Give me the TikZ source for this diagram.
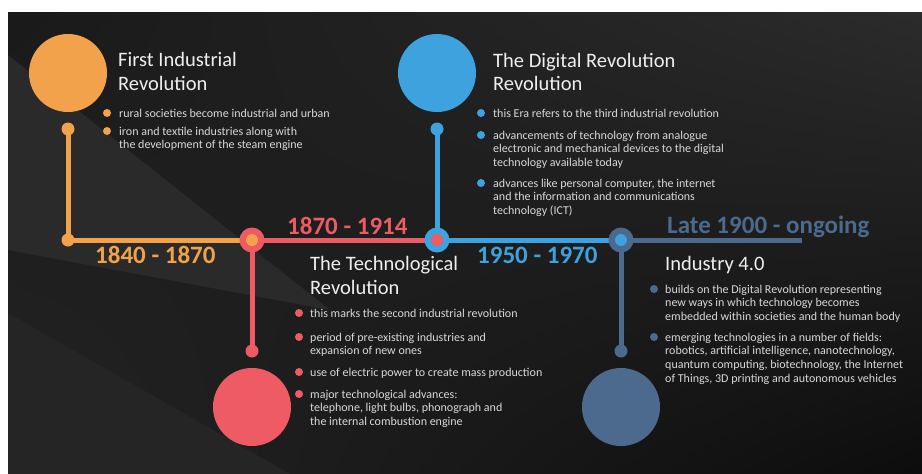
\documentclass[tikz,border=0pt]{standalone}
\usepackage{fontspec}
\setmainfont{Carlito}
\usetikzlibrary{shadings}
\definecolor{eraone}{HTML}{F3A24C}
\definecolor{eratwo}{HTML}{EE5B64}
\definecolor{erathree}{HTML}{3DA2DE}
\definecolor{erafour}{HTML}{4B6A8D}
\definecolor{headtext}{HTML}{EFEFEF}
\definecolor{bodytext}{HTML}{D9D9D9}
\definecolor{bandlight}{HTML}{2A2A2A}
\definecolor{bandlow}{HTML}{252525}
\pgfdeclarelayer{bg}
\pgfdeclarelayer{tracks}
\pgfsetlayers{bg,tracks,main}
\begin{document}
\begin{tikzpicture}[x=1pt, y=-1pt,
  bigdot/.style={circle, inner sep=0pt, minimum size=78pt},
  smalldot/.style={circle, inner sep=0pt, minimum size=13pt},
  ring/.style={circle, inner sep=0pt, minimum size=25pt},
  hub/.style={circle, inner sep=0pt, minimum size=12pt},
  bulletdot/.style={circle, inner sep=0pt, minimum size=8pt},
  track/.style={line width=5pt},
  headline/.style={anchor=base west, inner sep=0pt, align=left, text=headtext, font=\fontsize{20.5}{23.5}\selectfont},
  itemtext/.style={anchor=base west, inner sep=0pt, align=left, text=bodytext, font=\fontsize{12}{13.7}\selectfont},
  yearlabel/.style={anchor=base west, inner sep=0pt, font=\fontsize{25}{25}\selectfont\bfseries}]

\useasboundingbox (0,0) rectangle (922,474);
\begin{pgfonlayer}{bg}
\fill[white] (0,0) rectangle (922,474);
\shade[upper left=black!90, upper right=black!83, lower left=black!86, lower right=black!95] (8,12) rectangle (922,474);
\fill[bandlight] (8,55) -- (330,310) -- (8,250) -- cycle;
\fill[bandlow] (8,313) -- (290,474) -- (8,474) -- cycle;
\end{pgfonlayer}

% big circles and end dots
\node[bigdot, fill=eraone] (c1) at (68,73) {};
\node[smalldot, fill=eraone] (t1) at (68,129) {};
\node[smalldot, fill=eraone] (s1) at (68,240) {};
\node[bigdot, fill=eratwo] (c2) at (252,407) {};
\node[smalldot, fill=eratwo] (b2) at (252,351) {};
\node[bigdot, fill=erathree] (c3) at (437,73) {};
\node[smalldot, fill=erathree] (t3) at (437,129) {};
\node[bigdot, fill=erafour] (c4) at (621,407) {};
\node[smalldot, fill=erafour] (b4) at (621,351) {};
\coordinate (tail) at (802,240);

% junctions
\node[ring, fill=eratwo] (j2) at (252,240) {};
\node[hub, fill=eraone] (h2) at (j2) {};
\node[ring, fill=erathree] (j3) at (437,240) {};
\node[hub, fill=eratwo] (h3) at (j3) {};
\node[ring, fill=erafour] (j4) at (621,240) {};
\node[hub, fill=erathree] (h4) at (j4) {};

\begin{pgfonlayer}{tracks}
\draw[track, eraone] (t1.center) -- (s1.center) -- (j2.center);
\draw[track, eratwo] (j2.center) -- (j3.center);
\draw[track, eratwo] (j2.center) -- (b2.center);
\draw[track, erathree] (t3.center) -- (j3.center) -- (j4.center);
\draw[track, erafour] (j4.center) -- (b4.center);
\draw[track, erafour] (j4.center) -- (tail);
\end{pgfonlayer}

% years
\node[yearlabel, text=eraone] (y1) at (95,263) {1840 - 1870};
\node[yearlabel, text=eratwo] (y2) at (287,234) {1870 - 1914};
\node[yearlabel, text=erathree] (y3) at (477,263) {1950 - 1970};
\node[yearlabel, text=erafour] (y4) at (667,233) {Late 1900 - ongoing};

% first industrial revolution (multi-line nodes sit on their last line)
\node[headline] (h1) at (118,90) {First Industrial\\Revolution};
\node[bulletdot, fill=eraone] (d11) at (107,113) {};
\node[itemtext] (i11) at (119,117) {rural societies become industrial and urban};
\node[bulletdot, fill=eraone] (d12) at (107,131) {};
\node[itemtext] (i12) at (119,148.7) {iron and textile industries along with\\the development of the steam engine};

% technological revolution
\node[headline] (h2t) at (310,294) {The Technological\\Revolution};
\node[bulletdot, fill=eratwo] (d21) at (299,313) {};
\node[itemtext] (i21) at (310,317) {this marks the second industrial revolution};
\node[bulletdot, fill=eratwo] (d22) at (299,337) {};
\node[itemtext] (i22) at (310,354.7) {period of pre-existing industries and\\expansion of new ones};
\node[bulletdot, fill=eratwo] (d23) at (299,372) {};
\node[itemtext] (i23) at (310,376) {use of electric power to create mass production};
\node[bulletdot, fill=eratwo] (d24) at (299,394) {};
\node[itemtext] (i24) at (310,425.4) {major technological advances:\\telephone, light bulbs, phonograph and\\the internal combustion engine};

% digital revolution
\node[headline] (h3t) at (493,90.5) {The Digital Revolution\\Revolution};
\node[bulletdot, fill=erathree] (d31) at (481,113) {};
\node[itemtext] (i31) at (493,117) {this Era refers to the third industrial revolution};
\node[bulletdot, fill=erathree] (d32) at (481,135) {};
\node[itemtext] (i32) at (493,166.4) {advancements of technology from analogue\\electronic and mechanical devices to the digital\\technology available today};
\node[bulletdot, fill=erathree] (d33) at (481,183) {};
\node[itemtext] (i33) at (493,214.4) {advances like personal computer, the internet\\and the information and communications\\technology (ICT)};

% industry 4.0
\node[headline] (h4t) at (665,270) {Industry 4.0};
\node[bulletdot, fill=erafour] (d41) at (654,289) {};
\node[itemtext] (i41) at (665,320.4) {builds on the Digital Revolution representing\\new ways in which technology becomes\\embedded within societies and the human body};
\node[bulletdot, fill=erafour] (d42) at (654,337) {};
\node[itemtext] (i42) at (665,382.1) {emerging technologies in a number of fields:\\robotics, artificial intelligence, nanotechnology,\\quantum computing, biotechnology, the Internet\\of Things, 3D printing and autonomous vehicles};

\end{tikzpicture}
\end{document}
